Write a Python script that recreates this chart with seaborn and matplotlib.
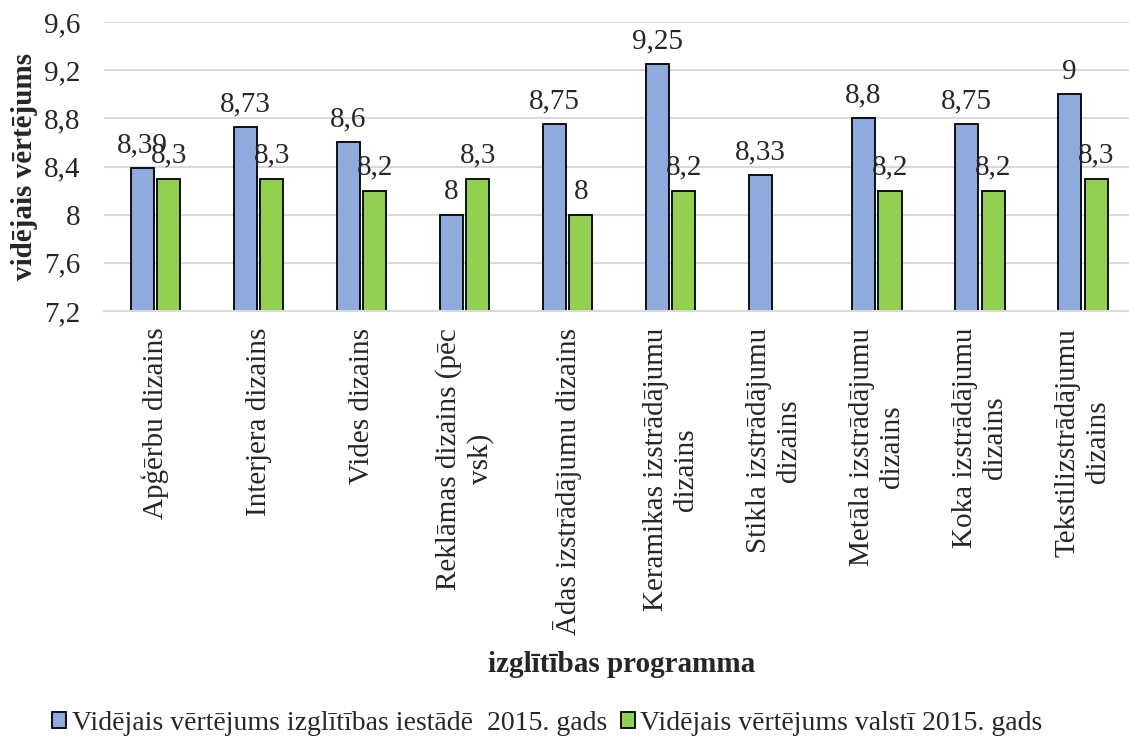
import numpy as np
import pandas as pd
import seaborn as sns
import matplotlib.pyplot as plt
from matplotlib.ticker import FuncFormatter

programmas = [
    "Apģērbu dizains",
    "Interjera dizains",
    "Vides dizains",
    "Reklāmas dizains (pēc\nvsk)",
    "Ādas izstrādājumu dizains",
    "Keramikas izstrādājumu\ndizains",
    "Stikla izstrādājumu\ndizains",
    "Metāla izstrādājumu\ndizains",
    "Koka izstrādājumu\ndizains",
    "Tekstilizstrādājumu\ndizains",
]
iestade_2015 = [8.39, 8.73, 8.6, 8.0, 8.75, 9.25, 8.33, 8.8, 8.75, 9.0]
valsti_2015 = [8.3, 8.3, 8.2, 8.3, 8.0, 8.2, np.nan, 8.2, 8.2, 8.3]
serijas = [
    "Vidējais vērtējums izglītības iestādē  2015. gads",
    "Vidējais vērtējums valstī 2015. gads",
]
krasas = ["#8FAADC", "#92D050"]

df = pd.concat([
    pd.DataFrame({"programma": programmas, "vertejums": iestade_2015, "serija": serijas[0]}),
    pd.DataFrame({"programma": programmas, "vertejums": valsti_2015, "serija": serijas[1]}),
], ignore_index=True)

sns.set_theme(style="white")
plt.rcParams["font.family"] = ["Liberation Serif", "DejaVu Serif"]

FS = 21


def lv_num(v):
    v = round(v, 2)
    return f"{v:g}".replace(".", ",")


fig = plt.figure(figsize=(11.29, 7.53), dpi=100)
ax = fig.add_axes([104 / 1129, 1 - 311 / 753, 1 - 104 / 1129, (311 - 22) / 753])

sns.barplot(
    data=df, x="programma", y="vertejums", hue="serija",
    palette=krasas, saturation=1, width=0.52, gap=0.14,
    edgecolor="black", linewidth=1.3, ax=ax,
)

for c in ax.containers:
    ax.bar_label(c, labels=[lv_num(b.get_height()) if not np.isnan(b.get_height()) else ""
                            for b in c],
                 padding=7, fontsize=FS)

ax.set_ylim(7.2, 9.6)
ax.set_yticks(np.arange(7.2, 9.61, 0.4))
ax.yaxis.set_major_formatter(FuncFormatter(lambda v, p: lv_num(round(v, 1))))
ax.set_xlim(-0.5, 9.45)
ax.grid(axis="y", color="#d9d9d9", linewidth=1.5)
ax.set_axisbelow(True)
for s in ["top", "right", "left"]:
    ax.spines[s].set_visible(False)
ax.spines["bottom"].set_color("#d9d9d9")
ax.spines["bottom"].set_linewidth(1.5)

ax.tick_params(axis="y", length=0, pad=17, labelsize=FS)
ax.tick_params(axis="x", length=0, pad=12, labelsize=FS)
for t in ax.get_xticklabels():
    t.set_rotation(90)
    t.set_ha("center")
    t.set_va("top")
    t.set_multialignment("center")

ax.set_ylabel("vidējais vērtējums", fontsize=FS, fontweight="bold", labelpad=4)
ax.set_xlabel("")
fig.text(0.551, 1 - 665 / 753, "izglītības programma", ha="center", va="center",
         fontsize=FS, fontweight="bold")

handles, labels = ax.get_legend_handles_labels()
ax.get_legend().remove()
fig.legend(handles, labels, loc="center", bbox_to_anchor=(0.485, 1 - 723 / 753),
           ncol=2, frameon=False, fontsize=20, handlelength=0.5, handleheight=0.5,
           handletextpad=0.2, columnspacing=0.5)

fig.savefig("out.png", dpi=100)
